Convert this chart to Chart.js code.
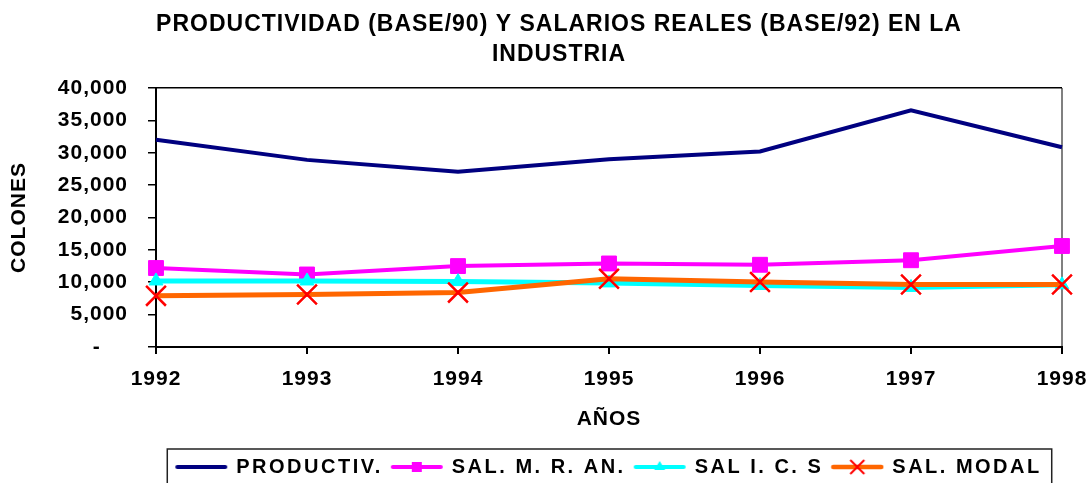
<!DOCTYPE html>
<html>
<head>
<meta charset="utf-8">
<script src="https://cdn.jsdelivr.net/npm/chart.js"></script>
<style>
  html, body { margin: 0; padding: 0; background: #fff; }
  canvas { display: block; }
</style>
</head>
<body>
<canvas id="chart" width="1091" height="483"></canvas>
<script>
// --- Data ---
const titleLines = ['PRODUCTIVIDAD (BASE/90) Y SALARIOS REALES (BASE/92) EN LA', 'INDUSTRIA'];
const years = ['1992', '1993', '1994', '1995', '1996', '1997', '1998'];
const seriesNames = ['PRODUCTIV.', 'SAL. M. R. AN.', 'SAL I. C. S', 'SAL. MODAL'];
const productiv = [32000, 28900, 27050, 29000, 30200, 36550, 30850];
const salMRAn = [12200, 11200, 12500, 12900, 12700, 13400, 15600];
const salICS = [10200, 10200, 10100, 9900, 9500, 9200, 9600];
const salModal = [7900, 8100, 8400, 10550, 10050, 9650, 9650];
const yMax = 40000;
const yStep = 5000;
const zeroLabel = '-    ';

Chart.defaults.font.family = 'Arial, "Liberation Sans", sans-serif';
Chart.defaults.color = '#000';

// small line + marker pictures for the legend
function sample(color, width, marker) {
    const c = document.createElement('canvas');
    c.width = 54;
    c.height = 22;
    const g = c.getContext('2d');
    g.strokeStyle = color;
    g.lineWidth = width;
    g.lineCap = 'round';
    g.beginPath();
    g.moveTo(3, 11);
    g.lineTo(51, 11);
    g.stroke();
    if (marker) marker(g, 27, 11);
    return c;
}

const samples = [
    sample('#000080', 4),
    sample('#ff00ff', 4, (g, x, y) => {
        g.fillStyle = '#ff00ff';
        g.fillRect(x - 5, y - 5, 10, 10);
    }),
    sample('#00ffff', 4, (g, x, y) => {
        g.fillStyle = '#00ffff';
        g.beginPath();
        g.moveTo(x, y - 6);
        g.lineTo(x + 5.5, y + 3);
        g.lineTo(x - 5.5, y + 3);
        g.closePath();
        g.fill();
    }),
    sample('#ff6600', 4.5, (g, x, y) => {
        g.strokeStyle = '#ff0000';
        g.lineWidth = 2;
        g.lineCap = 'butt';
        g.beginPath();
        g.moveTo(x - 7, y - 7); g.lineTo(x + 7, y + 7);
        g.moveTo(x + 7, y - 7); g.lineTo(x - 7, y + 7);
        g.stroke();
    })
];

// letter spacing, title offset and legend frame
const extras = {
    id: 'extras',
    beforeUpdate(chart) {
        chart.ctx.letterSpacing = '1px';
        const lg = chart.legend;
        if (lg && !lg.spaced) {
            const fit = lg.fit, draw = lg.draw;
            lg.fit = function () { chart.ctx.letterSpacing = '2.5px'; fit.call(this); chart.ctx.letterSpacing = '1px'; };
            lg.draw = function () { chart.ctx.letterSpacing = '2.5px'; draw.call(this); chart.ctx.letterSpacing = '1px'; };
            lg.spaced = true;
        }
    },
    beforeDraw(chart) {
        chart.ctx.letterSpacing = '1px';
    },
    afterLayout(chart) {
        if (chart.titleBlock) chart.titleBlock.left = 56;
    },
    afterDraw(chart) {
        const boxes = chart.legend.legendHitBoxes;
        if (!boxes || !boxes.length) return;
        const first = boxes[0], last = boxes[boxes.length - 1];
        const ctx = chart.ctx;
        ctx.save();
        ctx.strokeStyle = '#222';
        ctx.lineWidth = 1.5;
        ctx.strokeRect(first.left - 9, chart.legend.top + 1, last.left + last.width + 10 - (first.left - 9), 60);
        ctx.restore();
    }
};

const ctx = document.getElementById('chart').getContext('2d');

new Chart(ctx, {
    type: 'line',
    data: {
        labels: years,
        datasets: [{
            label: seriesNames[0],
            data: productiv,
            borderColor: '#000080',
            borderWidth: 4,
            pointRadius: 0,
            order: 4
        }, {
            label: seriesNames[1],
            data: salMRAn,
            borderColor: '#ff00ff',
            borderWidth: 4,
            pointStyle: 'rect',
            pointRadius: 10.5,
            pointBackgroundColor: '#ff00ff',
            pointBorderColor: '#ff00ff',
            pointBorderWidth: 1,
            order: 3
        }, {
            label: seriesNames[2],
            data: salICS,
            borderColor: '#00ffff',
            borderWidth: 5,
            pointStyle: 'triangle',
            pointRadius: 8,
            pointBackgroundColor: '#00ffff',
            pointBorderColor: '#00ffff',
            pointBorderWidth: 1,
            order: 2
        }, {
            label: seriesNames[3],
            data: salModal,
            borderColor: '#ff6600',
            borderWidth: 5,
            pointStyle: 'crossRot',
            pointRadius: 14,
            pointBorderColor: '#ff0000',
            pointBorderWidth: 2.5,
            order: 1
        }]
    },
    options: {
        responsive: false,
        animation: false,
        devicePixelRatio: 1,
        layout: { padding: { top: 0, right: 29, bottom: -4, left: 0 } },
        elements: { line: { tension: 0 } },
        plugins: {
            title: {
                display: true,
                text: titleLines,
                color: '#000',
                font: { size: 23, weight: 'bold', lineHeight: 1.326 },
                padding: { top: 9, bottom: 18 }
            },
            legend: {
                position: 'bottom',
                fullSize: false,
                labels: {
                    color: '#000',
                    font: { size: 20, weight: 'bold' },
                    usePointStyle: true,
                    pointStyleWidth: 50,
                    boxHeight: 20,
                    padding: 9,
                    generateLabels: (chart) => chart.data.datasets.map((ds, i) => ({
                        text: ds.label,
                        pointStyle: samples[i],
                        datasetIndex: i,
                        hidden: false,
                        lineWidth: 0,
                        strokeStyle: 'rgba(0,0,0,0)',
                        fillStyle: 'rgba(0,0,0,0)',
                        fontColor: '#000'
                    }))
                }
            },
            tooltip: { enabled: false }
        },
        scales: {
            x: {
                offset: false,
                afterFit: (scale) => {
                    scale.height = 101;
                    scale.paddingLeft = 0;
                    scale.paddingRight = 0;
                },
                grid: {
                    color: (c) => c.index === years.length - 1 ? '#808080' : 'rgba(0,0,0,0)',
                    tickColor: '#000',
                    tickLength: 7,
                    lineWidth: 2
                },
                border: { color: '#000', width: 2 },
                ticks: {
                    color: '#000',
                    font: { size: 21, weight: 'bold' },
                    padding: 13,
                    maxRotation: 0,
                    autoSkip: false
                },
                title: {
                    display: true,
                    text: 'AÑOS',
                    color: '#000',
                    font: { size: 21, weight: 'bold' },
                    padding: { top: 0, bottom: 16 }
                }
            },
            y: {
                min: 0,
                max: yMax,
                afterFit: (scale) => { scale.width = 156; },
                grid: {
                    color: (c) => c.tick && c.tick.value === yMax ? '#000' : 'rgba(0,0,0,0)',
                    tickColor: '#000',
                    tickLength: 8,
                    lineWidth: 1.5
                },
                border: { color: '#000', width: 2 },
                ticks: {
                    stepSize: yStep,
                    color: '#000',
                    font: { size: 21, weight: 'bold' },
                    padding: 20,
                    callback: (v) => v === 0 ? zeroLabel : v.toLocaleString('en-US')
                },
                title: {
                    display: true,
                    text: 'COLONES',
                    color: '#000',
                    font: { size: 21, weight: 'bold' },
                    padding: { top: 7, bottom: 0 }
                }
            }
        }
    },
    plugins: [extras]
});
</script>
</body>
</html>
